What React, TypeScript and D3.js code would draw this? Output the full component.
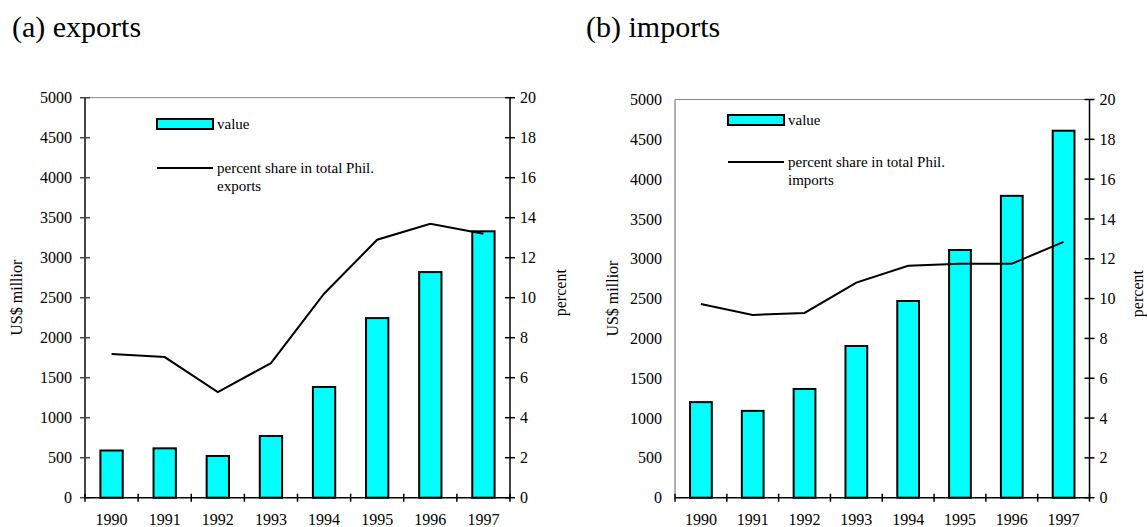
import React from "react";
import * as d3 from "d3";

const years = ["1990", "1991", "1992", "1993", "1994", "1995", "1996", "1997"];
const exportValues = [590, 617, 521, 771, 1384, 2245, 2820, 3330];
const exportShare = [7.18, 7.03, 5.28, 6.73, 10.2, 12.9, 13.7, 13.2];
const importValues = [1200, 1090, 1365, 1905, 2470, 3110, 3790, 4608];
const importShare = [9.73, 9.18, 9.28, 10.8, 11.65, 11.75, 11.75, 12.85];
const valueTicks = [0, 500, 1000, 1500, 2000, 2500, 3000, 3500, 4000, 4500, 5000];
const pctTicks = [0, 2, 4, 6, 8, 10, 12, 14, 16, 18, 20];

const FONT = "'Liberation Serif', 'Times New Roman', serif";
const ts = (size: number) => ({ fontFamily: FONT, fontSize: size });

type PanelProps = {
  x0: number; x1: number; top: number; bottom: number;
  values: number[]; share: number[]; title: string; titleX: number;
  legendText2: string; legendRectY: number; legendLineY: number; legendX: number;
  leftAxisTicks: boolean; yLabelX: number; pctLabelX: number;
};

function Panel(p: PanelProps) {
  const x = d3.scaleBand<string>().domain(years).range([p.x0, p.x1]).paddingInner(0.58).paddingOuter(0.29);
  const step = (p.x1 - p.x0) / years.length;
  const yV = d3.scaleLinear().domain([0, 5000]).range([p.bottom, p.top]);
  const yP = d3.scaleLinear().domain([0, 20]).range([p.bottom, p.top]);
  const cx = (d: string) => (x(d) as number) + x.bandwidth() / 2;
  const line = d3.line<number>().x((_, i) => cx(years[i])).y((d) => yP(d));
  const midY = (p.top + p.bottom) / 2;
  return (
    <g>
      <text x={p.titleX} y={37} style={ts(30)}>{p.title}</text>
      <line x1={p.x0} x2={p.x1} y1={p.top} y2={p.top} stroke="#888" strokeWidth={1} />
      {p.values.map((v, i) => (
        <rect key={i} x={x(years[i])} y={yV(v)} width={x.bandwidth()} height={p.bottom - yV(v)}
          fill="#00FFFF" stroke="#000" strokeWidth={2} />
      ))}
      <path d={line(p.share) || ""} fill="none" stroke="#000" strokeWidth={2} />
      <line x1={p.x0} x2={p.x0} y1={p.top} y2={p.bottom} stroke={p.leftAxisTicks ? "#444" : "#666"} strokeWidth={p.leftAxisTicks ? 2 : 1} />
      {valueTicks.map((t) => (
        <g key={t}>
          {p.leftAxisTicks && <line x1={p.x0 - 5} x2={p.x0 + 5} y1={yV(t)} y2={yV(t)} stroke="#444" strokeWidth={1.5} />}
          <text x={p.x0 - 13} y={yV(t)} dy="0.35em" textAnchor="end" style={ts(16)}>{t}</text>
        </g>
      ))}
      <line x1={p.x1} x2={p.x1} y1={p.top} y2={p.bottom} stroke="#000" strokeWidth={1.5} />
      {pctTicks.map((t) => (
        <g key={t}>
          <line x1={p.x1 - 5} x2={p.x1 + 5} y1={yP(t)} y2={yP(t)} stroke="#000" strokeWidth={1.5} />
          <text x={p.x1 + 10} y={yP(t)} dy="0.35em" textAnchor="start" style={ts(16)}>{t}</text>
        </g>
      ))}
      <line x1={p.x0} x2={p.x1} y1={p.bottom} y2={p.bottom} stroke="#000" strokeWidth={1.5} />
      {d3.range(years.length + 1).map((i) => (
        <line key={i} x1={p.x0 + i * step} x2={p.x0 + i * step} y1={p.bottom - 4} y2={p.bottom + 4} stroke="#000" strokeWidth={1.5} />
      ))}
      {years.map((yr) => (
        <text key={yr} x={cx(yr)} y={525} textAnchor="middle" style={ts(16)}>{yr}</text>
      ))}
      <text transform={`translate(${p.yLabelX},${midY}) rotate(-90)`} textAnchor="middle" dy="0.35em" style={ts(16)}>US$ millior</text>
      <text transform={`translate(${p.pctLabelX},${midY - 5}) rotate(-90)`} textAnchor="middle" dy="0.35em" style={ts(16)}>percent</text>
      <rect x={p.legendX} y={p.legendRectY} width={56} height={10} fill="#00FFFF" stroke="#000" strokeWidth={2} />
      <text x={p.legendX + 60} y={p.legendRectY + 5} dy="0.35em" style={ts(15)}>value</text>
      <line x1={p.legendX} x2={p.legendX + 56} y1={p.legendLineY} y2={p.legendLineY} stroke="#000" strokeWidth={2} />
      <text x={p.legendX + 60} y={p.legendLineY} dy="0.35em" style={ts(15)}>percent share in total Phil.</text>
      <text x={p.legendX + 60} y={p.legendLineY + 18} dy="0.35em" style={ts(15)}>{p.legendText2}</text>
    </g>
  );
}

export default function App() {
  return (
    <svg width={1147} height={527} style={{ position: "absolute", left: 0, top: 0, background: "#fff" }}>
      <rect width={1147} height={527} fill="#fff" />
      <Panel x0={85} x1={510} top={97.7} bottom={497.7} values={exportValues} share={exportShare}
        title="(a) exports" titleX={12} legendText2="exports" legendRectY={119} legendLineY={168}
        legendX={157} leftAxisTicks={true} yLabelX={16} pctLabelX={560} />
      <Panel x0={675} x1={1089.5} top={99.5} bottom={497.7} values={importValues} share={importShare}
        title="(b) imports" titleX={586} legendText2="imports" legendRectY={115} legendLineY={162}
        legendX={728} leftAxisTicks={false} yLabelX={612} pctLabelX={1137} />
    </svg>
  );
}
